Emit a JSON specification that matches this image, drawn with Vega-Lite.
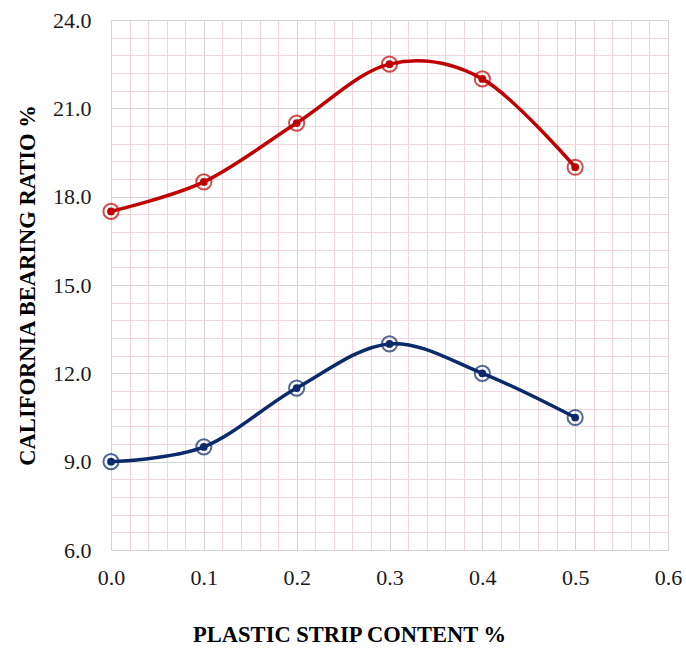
{
  "$schema": "https://vega.github.io/schema/vega-lite/v6.json",
  "width": 557,
  "height": 530,
  "autosize": {"type": "none"},
  "padding": {"left": 111, "top": 20, "right": 18, "bottom": 104},
  "background": "white",
  "config": {
    "view": {"stroke": null},
    "font": "Liberation Serif"
  },
  "data": {
    "values": [
      {"content": 0.0, "cbr": 17.5, "series": "A"},
      {"content": 0.1, "cbr": 18.5, "series": "A"},
      {"content": 0.2, "cbr": 20.5, "series": "A"},
      {"content": 0.3, "cbr": 22.5, "series": "A"},
      {"content": 0.4, "cbr": 22.0, "series": "A"},
      {"content": 0.5, "cbr": 19.0, "series": "A"},
      {"content": 0.0, "cbr": 9.0, "series": "B"},
      {"content": 0.1, "cbr": 9.5, "series": "B"},
      {"content": 0.2, "cbr": 11.5, "series": "B"},
      {"content": 0.3, "cbr": 13.0, "series": "B"},
      {"content": 0.4, "cbr": 12.0, "series": "B"},
      {"content": 0.5, "cbr": 10.5, "series": "B"}
    ]
  },
  "encoding": {
    "x": {
      "field": "content", "type": "quantitative",
      "scale": {"domain": [0, 0.6], "nice": false, "zero": false},
      "axis": {
        "title": "PLASTIC STRIP CONTENT %",
        "values": [0,0.02,0.04,0.06,0.08,0.1,0.12,0.14,0.16,0.18,0.2,0.22,0.24,0.26,0.28,0.3,0.32,0.34,0.36,0.38,0.4,0.42,0.44,0.46,0.48,0.5,0.52,0.54,0.56,0.58,0.6],
        "labelExpr": "abs(datum.value*10 - round(datum.value*10)) < 0.001 ? format(datum.value, '.1f') : ''",
        "labelOverlap": false,
        "labelFlush": false,
        "ticks": false,
        "tickSize": 0,
        "domain": false,
        "labelFontSize": 22,
        "labelColor": "#1a1a1a",
        "labelPadding": 17,
        "titleFontSize": 22.5,
        "titleFontWeight": "bold",
        "titleColor": "#000000",
        "titleX": 238,
        "titlePadding": 35,
        "grid": true,
        "gridWidth": 1,
        "gridColor": {"condition": {"test": "abs(datum.value*10 - round(datum.value*10)) < 0.001", "value": "#d4d4d4"}, "value": "#f0d6dc"}
      }
    },
    "y": {
      "field": "cbr", "type": "quantitative",
      "scale": {"domain": [6, 24], "nice": false, "zero": false},
      "axis": {
        "title": "CALIFORNIA BEARING RATIO %",
        "values": [6,6.6,7.2,7.8,8.4,9,9.6,10.2,10.8,11.4,12,12.6,13.2,13.8,14.4,15,15.6,16.2,16.8,17.4,18,18.6,19.2,19.8,20.4,21,21.6,22.2,22.8,23.4,24],
        "labelExpr": "abs(datum.value/3 - round(datum.value/3)) < 0.01 ? format(datum.value, '.1f') : ''",
        "labelOverlap": false,
        "labelFlush": false,
        "ticks": false,
        "tickSize": 0,
        "domain": false,
        "labelFontSize": 22,
        "labelColor": "#1a1a1a",
        "labelPadding": 20,
        "titleFontSize": 22.5,
        "titleFontWeight": "bold",
        "titleColor": "#000000",
        "titlePadding": 13,
        "grid": true,
        "gridWidth": 1,
        "gridColor": {"condition": {"test": "abs(datum.value/3 - round(datum.value/3)) < 0.01", "value": "#d4d4d4"}, "value": "#f0d6dc"}
      }
    },
    "color": {
      "field": "series", "type": "nominal",
      "scale": {"domain": ["A", "B"], "range": ["#c00000", "#0a2a6b"]},
      "legend": null
    },
    "detail": {"field": "series"}
  },
  "layer": [
    {"mark": {"type": "line", "interpolate": "cardinal", "strokeWidth": 3.5}},
    {"mark": {"type": "point", "shape": "circle", "filled": false, "size": 230, "strokeWidth": 2}},
    {"mark": {"type": "point", "shape": "circle", "filled": true, "size": 60, "opacity": 1}}
  ]
}
